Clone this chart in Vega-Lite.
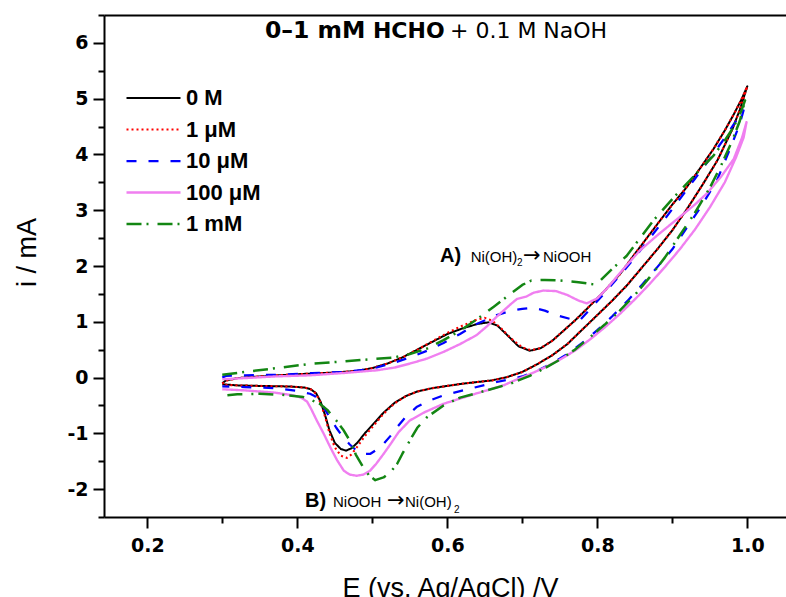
{
  "$schema": "https://vega.github.io/schema/vega-lite/v6.json",
  "width": 682,
  "height": 502,
  "autosize": {"type": "none"},
  "padding": {"left": 104, "top": 15, "right": 0, "bottom": 80},
  "background": "white",
  "config": {
    "view": {"stroke": null},
    "font": "Liberation Sans",
    "axis": {
      "domainColor": "black", "domainWidth": 2, "tickColor": "black", "tickWidth": 2,
      "labelFont": "DejaVu Sans", "labelFontWeight": "bold", "labelFontSize": 19, "labelColor": "black",
      "titleFont": "Liberation Sans", "titleFontWeight": "normal", "titleFontSize": 27, "titleColor": "black",
      "grid": false
    },
    "legend": {
      "orient": "none", "legendX": 21, "legendY": 70, "title": null,
      "symbolType": "stroke", "symbolSize": 2916, "labelFont": "Liberation Sans", "labelFontWeight": "bold",
      "labelFontSize": 22, "labelColor": "black", "labelOffset": 4, "clipHeight": 26, "rowPadding": 5.5, "padding": 0
    }
  },
  "datasets": {
    "cv": [
      {"c":"0 M","k":1,"E":0.300,"i":-0.10},{"c":"0 M","k":2,"E":0.305,"i":-0.05},{"c":"0 M","k":3,"E":0.32,"i":-0.01},{"c":"0 M","k":4,"E":0.35,"i":0.02},{"c":"0 M","k":5,"E":0.40,"i":0.06},{"c":"0 M","k":6,"E":0.45,"i":0.09},{"c":"0 M","k":7,"E":0.48,"i":0.12},{"c":"0 M","k":8,"E":0.50,"i":0.17},{"c":"0 M","k":9,"E":0.52,"i":0.25},{"c":"0 M","k":10,"E":0.54,"i":0.36},{"c":"0 M","k":11,"E":0.56,"i":0.50},{"c":"0 M","k":12,"E":0.58,"i":0.64},{"c":"0 M","k":13,"E":0.60,"i":0.78},{"c":"0 M","k":14,"E":0.62,"i":0.88},{"c":"0 M","k":15,"E":0.64,"i":0.96},{"c":"0 M","k":16,"E":0.655,"i":0.99},{"c":"0 M","k":17,"E":0.667,"i":0.93},{"c":"0 M","k":18,"E":0.68,"i":0.76},{"c":"0 M","k":19,"E":0.695,"i":0.56},{"c":"0 M","k":20,"E":0.71,"i":0.48},{"c":"0 M","k":21,"E":0.725,"i":0.53},{"c":"0 M","k":22,"E":0.74,"i":0.66},{"c":"0 M","k":23,"E":0.755,"i":0.84},{"c":"0 M","k":24,"E":0.77,"i":1.02},{"c":"0 M","k":25,"E":0.786,"i":1.23},{"c":"0 M","k":26,"E":0.808,"i":1.53},{"c":"0 M","k":27,"E":0.83,"i":1.85},{"c":"0 M","k":28,"E":0.848,"i":2.18},{"c":"0 M","k":29,"E":0.866,"i":2.50},{"c":"0 M","k":30,"E":0.884,"i":2.82},{"c":"0 M","k":31,"E":0.90,"i":3.10},{"c":"0 M","k":32,"E":0.919,"i":3.41},{"c":"0 M","k":33,"E":0.937,"i":3.75},{"c":"0 M","k":34,"E":0.955,"i":4.10},{"c":"0 M","k":35,"E":0.97,"i":4.43},{"c":"0 M","k":36,"E":0.982,"i":4.72},{"c":"0 M","k":37,"E":0.992,"i":4.98},{"c":"0 M","k":38,"E":1.0,"i":5.22},
      {"c":"0 M","k":39,"E":0.99,"i":4.80},{"c":"0 M","k":40,"E":0.98,"i":4.45},{"c":"0 M","k":41,"E":0.96,"i":3.89},{"c":"0 M","k":42,"E":0.94,"i":3.45},{"c":"0 M","k":43,"E":0.92,"i":3.03},{"c":"0 M","k":44,"E":0.90,"i":2.64},{"c":"0 M","k":45,"E":0.88,"i":2.30},{"c":"0 M","k":46,"E":0.86,"i":1.98},{"c":"0 M","k":47,"E":0.84,"i":1.66},{"c":"0 M","k":48,"E":0.82,"i":1.38},{"c":"0 M","k":49,"E":0.80,"i":1.12},{"c":"0 M","k":50,"E":0.78,"i":0.86},{"c":"0 M","k":51,"E":0.76,"i":0.60},{"c":"0 M","k":52,"E":0.74,"i":0.40},{"c":"0 M","k":53,"E":0.72,"i":0.24},{"c":"0 M","k":54,"E":0.70,"i":0.10},{"c":"0 M","k":55,"E":0.68,"i":0.01},{"c":"0 M","k":56,"E":0.66,"i":-0.05},{"c":"0 M","k":57,"E":0.64,"i":-0.08},{"c":"0 M","k":58,"E":0.62,"i":-0.11},{"c":"0 M","k":59,"E":0.60,"i":-0.15},{"c":"0 M","k":60,"E":0.58,"i":-0.19},{"c":"0 M","k":61,"E":0.56,"i":-0.25},{"c":"0 M","k":62,"E":0.545,"i":-0.33},{"c":"0 M","k":63,"E":0.53,"i":-0.45},{"c":"0 M","k":64,"E":0.515,"i":-0.63},{"c":"0 M","k":65,"E":0.505,"i":-0.78},{"c":"0 M","k":66,"E":0.49,"i":-1.00},{"c":"0 M","k":67,"E":0.48,"i":-1.17},{"c":"0 M","k":68,"E":0.472,"i":-1.27},{"c":"0 M","k":69,"E":0.465,"i":-1.31},{"c":"0 M","k":70,"E":0.458,"i":-1.28},{"c":"0 M","k":71,"E":0.45,"i":-1.17},{"c":"0 M","k":72,"E":0.443,"i":-0.95},{"c":"0 M","k":73,"E":0.437,"i":-0.67},{"c":"0 M","k":74,"E":0.431,"i":-0.43},{"c":"0 M","k":75,"E":0.425,"i":-0.28},{"c":"0 M","k":76,"E":0.418,"i":-0.21},{"c":"0 M","k":77,"E":0.41,"i":-0.18},{"c":"0 M","k":78,"E":0.39,"i":-0.16},{"c":"0 M","k":79,"E":0.35,"i":-0.15},{"c":"0 M","k":80,"E":0.32,"i":-0.14},{"c":"0 M","k":81,"E":0.30,"i":-0.12},

      {"c":"1 μM","k":1,"E":0.300,"i":-0.11},{"c":"1 μM","k":2,"E":0.305,"i":-0.06},{"c":"1 μM","k":3,"E":0.32,"i":-0.01},{"c":"1 μM","k":4,"E":0.35,"i":0.02},{"c":"1 μM","k":5,"E":0.40,"i":0.06},{"c":"1 μM","k":6,"E":0.45,"i":0.09},{"c":"1 μM","k":7,"E":0.48,"i":0.12},{"c":"1 μM","k":8,"E":0.50,"i":0.17},{"c":"1 μM","k":9,"E":0.52,"i":0.25},{"c":"1 μM","k":10,"E":0.54,"i":0.36},{"c":"1 μM","k":11,"E":0.56,"i":0.50},{"c":"1 μM","k":12,"E":0.58,"i":0.65},{"c":"1 μM","k":13,"E":0.60,"i":0.80},{"c":"1 μM","k":14,"E":0.62,"i":0.93},{"c":"1 μM","k":15,"E":0.64,"i":1.04},{"c":"1 μM","k":16,"E":0.65,"i":1.07},{"c":"1 μM","k":17,"E":0.66,"i":1.02},{"c":"1 μM","k":18,"E":0.672,"i":0.88},{"c":"1 μM","k":19,"E":0.685,"i":0.70},{"c":"1 μM","k":20,"E":0.70,"i":0.54},{"c":"1 μM","k":21,"E":0.712,"i":0.49},{"c":"1 μM","k":22,"E":0.725,"i":0.53},{"c":"1 μM","k":23,"E":0.74,"i":0.66},{"c":"1 μM","k":24,"E":0.755,"i":0.84},{"c":"1 μM","k":25,"E":0.77,"i":1.02},{"c":"1 μM","k":26,"E":0.786,"i":1.23},{"c":"1 μM","k":27,"E":0.808,"i":1.53},{"c":"1 μM","k":28,"E":0.83,"i":1.85},{"c":"1 μM","k":29,"E":0.848,"i":2.18},{"c":"1 μM","k":30,"E":0.866,"i":2.50},{"c":"1 μM","k":31,"E":0.884,"i":2.82},{"c":"1 μM","k":32,"E":0.90,"i":3.10},{"c":"1 μM","k":33,"E":0.919,"i":3.41},{"c":"1 μM","k":34,"E":0.937,"i":3.75},{"c":"1 μM","k":35,"E":0.955,"i":4.10},{"c":"1 μM","k":36,"E":0.97,"i":4.43},{"c":"1 μM","k":37,"E":0.982,"i":4.72},{"c":"1 μM","k":38,"E":0.992,"i":4.98},{"c":"1 μM","k":39,"E":1.0,"i":5.22},
      {"c":"1 μM","k":40,"E":0.99,"i":4.80},{"c":"1 μM","k":41,"E":0.98,"i":4.45},{"c":"1 μM","k":42,"E":0.96,"i":3.89},{"c":"1 μM","k":43,"E":0.94,"i":3.45},{"c":"1 μM","k":44,"E":0.92,"i":3.03},{"c":"1 μM","k":45,"E":0.90,"i":2.64},{"c":"1 μM","k":46,"E":0.88,"i":2.30},{"c":"1 μM","k":47,"E":0.86,"i":1.98},{"c":"1 μM","k":48,"E":0.84,"i":1.66},{"c":"1 μM","k":49,"E":0.82,"i":1.38},{"c":"1 μM","k":50,"E":0.80,"i":1.12},{"c":"1 μM","k":51,"E":0.78,"i":0.86},{"c":"1 μM","k":52,"E":0.76,"i":0.60},{"c":"1 μM","k":53,"E":0.74,"i":0.40},{"c":"1 μM","k":54,"E":0.72,"i":0.24},{"c":"1 μM","k":55,"E":0.70,"i":0.10},{"c":"1 μM","k":56,"E":0.68,"i":0.01},{"c":"1 μM","k":57,"E":0.66,"i":-0.05},{"c":"1 μM","k":58,"E":0.64,"i":-0.08},{"c":"1 μM","k":59,"E":0.62,"i":-0.11},{"c":"1 μM","k":60,"E":0.60,"i":-0.15},{"c":"1 μM","k":61,"E":0.58,"i":-0.19},{"c":"1 μM","k":62,"E":0.56,"i":-0.25},{"c":"1 μM","k":63,"E":0.545,"i":-0.33},{"c":"1 μM","k":64,"E":0.53,"i":-0.46},{"c":"1 μM","k":65,"E":0.515,"i":-0.65},{"c":"1 μM","k":66,"E":0.505,"i":-0.81},{"c":"1 μM","k":67,"E":0.49,"i":-1.05},{"c":"1 μM","k":68,"E":0.48,"i":-1.24},{"c":"1 μM","k":69,"E":0.472,"i":-1.38},{"c":"1 μM","k":70,"E":0.466,"i":-1.44},{"c":"1 μM","k":71,"E":0.458,"i":-1.40},{"c":"1 μM","k":72,"E":0.45,"i":-1.25},{"c":"1 μM","k":73,"E":0.443,"i":-1.00},{"c":"1 μM","k":74,"E":0.437,"i":-0.70},{"c":"1 μM","k":75,"E":0.431,"i":-0.45},{"c":"1 μM","k":76,"E":0.425,"i":-0.29},{"c":"1 μM","k":77,"E":0.418,"i":-0.21},{"c":"1 μM","k":78,"E":0.41,"i":-0.18},{"c":"1 μM","k":79,"E":0.39,"i":-0.16},{"c":"1 μM","k":80,"E":0.35,"i":-0.15},{"c":"1 μM","k":81,"E":0.32,"i":-0.14},{"c":"1 μM","k":82,"E":0.30,"i":-0.13},

      {"c":"10 μM","k":1,"E":0.30,"i":0.00},{"c":"10 μM","k":2,"E":0.305,"i":0.03},{"c":"10 μM","k":3,"E":0.33,"i":0.04},{"c":"10 μM","k":4,"E":0.373,"i":0.05},{"c":"10 μM","k":5,"E":0.42,"i":0.08},{"c":"10 μM","k":6,"E":0.462,"i":0.10},{"c":"10 μM","k":7,"E":0.49,"i":0.14},{"c":"10 μM","k":8,"E":0.506,"i":0.18},{"c":"10 μM","k":9,"E":0.53,"i":0.27},{"c":"10 μM","k":10,"E":0.55,"i":0.36},{"c":"10 μM","k":11,"E":0.573,"i":0.48},{"c":"10 μM","k":12,"E":0.595,"i":0.62},{"c":"10 μM","k":13,"E":0.617,"i":0.78},{"c":"10 μM","k":14,"E":0.639,"i":0.96},{"c":"10 μM","k":15,"E":0.653,"i":1.04},{"c":"10 μM","k":16,"E":0.666,"i":1.12},{"c":"10 μM","k":17,"E":0.685,"i":1.20},{"c":"10 μM","k":18,"E":0.70,"i":1.23},{"c":"10 μM","k":19,"E":0.715,"i":1.25},{"c":"10 μM","k":20,"E":0.73,"i":1.20},{"c":"10 μM","k":21,"E":0.745,"i":1.12},{"c":"10 μM","k":22,"E":0.764,"i":1.05},{"c":"10 μM","k":23,"E":0.777,"i":1.03},{"c":"10 μM","k":24,"E":0.79,"i":1.22},{"c":"10 μM","k":25,"E":0.81,"i":1.52},{"c":"10 μM","k":26,"E":0.83,"i":1.83},{"c":"10 μM","k":27,"E":0.85,"i":2.15},{"c":"10 μM","k":28,"E":0.87,"i":2.50},{"c":"10 μM","k":29,"E":0.89,"i":2.84},{"c":"10 μM","k":30,"E":0.91,"i":3.20},{"c":"10 μM","k":31,"E":0.93,"i":3.56},{"c":"10 μM","k":32,"E":0.95,"i":3.92},{"c":"10 μM","k":33,"E":0.97,"i":4.30},{"c":"10 μM","k":34,"E":0.985,"i":4.60},{"c":"10 μM","k":35,"E":0.995,"i":4.79},
      {"c":"10 μM","k":36,"E":0.99,"i":4.55},{"c":"10 μM","k":37,"E":0.98,"i":4.20},{"c":"10 μM","k":38,"E":0.96,"i":3.55},{"c":"10 μM","k":39,"E":0.94,"i":3.10},{"c":"10 μM","k":40,"E":0.92,"i":2.70},{"c":"10 μM","k":41,"E":0.90,"i":2.30},{"c":"10 μM","k":42,"E":0.88,"i":1.98},{"c":"10 μM","k":43,"E":0.86,"i":1.67},{"c":"10 μM","k":44,"E":0.84,"i":1.37},{"c":"10 μM","k":45,"E":0.82,"i":1.10},{"c":"10 μM","k":46,"E":0.80,"i":0.85},{"c":"10 μM","k":47,"E":0.78,"i":0.62},{"c":"10 μM","k":48,"E":0.76,"i":0.42},{"c":"10 μM","k":49,"E":0.74,"i":0.26},{"c":"10 μM","k":50,"E":0.72,"i":0.12},{"c":"10 μM","k":51,"E":0.70,"i":0.02},{"c":"10 μM","k":52,"E":0.666,"i":-0.08},{"c":"10 μM","k":53,"E":0.63,"i":-0.20},{"c":"10 μM","k":54,"E":0.595,"i":-0.32},{"c":"10 μM","k":55,"E":0.575,"i":-0.42},{"c":"10 μM","k":56,"E":0.559,"i":-0.53},{"c":"10 μM","k":57,"E":0.545,"i":-0.70},{"c":"10 μM","k":58,"E":0.533,"i":-0.89},{"c":"10 μM","k":59,"E":0.524,"i":-1.05},{"c":"10 μM","k":60,"E":0.515,"i":-1.19},{"c":"10 μM","k":61,"E":0.505,"i":-1.30},{"c":"10 μM","k":62,"E":0.497,"i":-1.37},{"c":"10 μM","k":63,"E":0.488,"i":-1.37},{"c":"10 μM","k":64,"E":0.479,"i":-1.31},{"c":"10 μM","k":65,"E":0.47,"i":-1.20},{"c":"10 μM","k":66,"E":0.461,"i":-1.07},{"c":"10 μM","k":67,"E":0.452,"i":-0.90},{"c":"10 μM","k":68,"E":0.443,"i":-0.71},{"c":"10 μM","k":69,"E":0.436,"i":-0.55},{"c":"10 μM","k":70,"E":0.43,"i":-0.41},{"c":"10 μM","k":71,"E":0.423,"i":-0.33},{"c":"10 μM","k":72,"E":0.417,"i":-0.29},{"c":"10 μM","k":73,"E":0.40,"i":-0.24},{"c":"10 μM","k":74,"E":0.37,"i":-0.19},{"c":"10 μM","k":75,"E":0.33,"i":-0.17},{"c":"10 μM","k":76,"E":0.30,"i":-0.16},

      {"c":"100 μM","k":1,"E":0.30,"i":-0.03},{"c":"100 μM","k":2,"E":0.33,"i":-0.01},{"c":"100 μM","k":3,"E":0.37,"i":0.02},{"c":"100 μM","k":4,"E":0.417,"i":0.04},{"c":"100 μM","k":5,"E":0.46,"i":0.08},{"c":"100 μM","k":6,"E":0.506,"i":0.13},{"c":"100 μM","k":7,"E":0.53,"i":0.18},{"c":"100 μM","k":8,"E":0.55,"i":0.25},{"c":"100 μM","k":9,"E":0.573,"i":0.34},{"c":"100 μM","k":10,"E":0.595,"i":0.46},{"c":"100 μM","k":11,"E":0.617,"i":0.60},{"c":"100 μM","k":12,"E":0.639,"i":0.76},{"c":"100 μM","k":13,"E":0.653,"i":0.92},{"c":"100 μM","k":14,"E":0.665,"i":1.08},{"c":"100 μM","k":15,"E":0.675,"i":1.20},{"c":"100 μM","k":16,"E":0.685,"i":1.32},{"c":"100 μM","k":17,"E":0.693,"i":1.41},{"c":"100 μM","k":18,"E":0.705,"i":1.45},{"c":"100 μM","k":19,"E":0.715,"i":1.52},{"c":"100 μM","k":20,"E":0.728,"i":1.56},{"c":"100 μM","k":21,"E":0.745,"i":1.55},{"c":"100 μM","k":22,"E":0.76,"i":1.48},{"c":"100 μM","k":23,"E":0.775,"i":1.38},{"c":"100 μM","k":24,"E":0.786,"i":1.33},{"c":"100 μM","k":25,"E":0.80,"i":1.42},{"c":"100 μM","k":26,"E":0.813,"i":1.60},{"c":"100 μM","k":27,"E":0.835,"i":1.95},{"c":"100 μM","k":28,"E":0.857,"i":2.28},{"c":"100 μM","k":29,"E":0.88,"i":2.55},{"c":"100 μM","k":30,"E":0.91,"i":2.88},{"c":"100 μM","k":31,"E":0.93,"i":3.10},{"c":"100 μM","k":32,"E":0.946,"i":3.30},{"c":"100 μM","k":33,"E":0.965,"i":3.60},{"c":"100 μM","k":34,"E":0.982,"i":3.92},{"c":"100 μM","k":35,"E":0.993,"i":4.30},{"c":"100 μM","k":36,"E":0.999,"i":4.58},
      {"c":"100 μM","k":37,"E":0.995,"i":4.30},{"c":"100 μM","k":38,"E":0.985,"i":3.95},{"c":"100 μM","k":39,"E":0.97,"i":3.50},{"c":"100 μM","k":40,"E":0.95,"i":3.05},{"c":"100 μM","k":41,"E":0.93,"i":2.65},{"c":"100 μM","k":42,"E":0.91,"i":2.30},{"c":"100 μM","k":43,"E":0.89,"i":1.98},{"c":"100 μM","k":44,"E":0.87,"i":1.68},{"c":"100 μM","k":45,"E":0.85,"i":1.40},{"c":"100 μM","k":46,"E":0.83,"i":1.14},{"c":"100 μM","k":47,"E":0.81,"i":0.90},{"c":"100 μM","k":48,"E":0.79,"i":0.68},{"c":"100 μM","k":49,"E":0.77,"i":0.48},{"c":"100 μM","k":50,"E":0.75,"i":0.32},{"c":"100 μM","k":51,"E":0.73,"i":0.18},{"c":"100 μM","k":52,"E":0.71,"i":0.06},{"c":"100 μM","k":53,"E":0.69,"i":-0.05},{"c":"100 μM","k":54,"E":0.675,"i":-0.14},{"c":"100 μM","k":55,"E":0.64,"i":-0.28},{"c":"100 μM","k":56,"E":0.595,"i":-0.47},{"c":"100 μM","k":57,"E":0.57,"i":-0.62},{"c":"100 μM","k":58,"E":0.55,"i":-0.77},{"c":"100 μM","k":59,"E":0.535,"i":-0.98},{"c":"100 μM","k":60,"E":0.525,"i":-1.18},{"c":"100 μM","k":61,"E":0.515,"i":-1.37},{"c":"100 μM","k":62,"E":0.505,"i":-1.55},{"c":"100 μM","k":63,"E":0.497,"i":-1.67},{"c":"100 μM","k":64,"E":0.488,"i":-1.74},{"c":"100 μM","k":65,"E":0.479,"i":-1.76},{"c":"100 μM","k":66,"E":0.47,"i":-1.74},{"c":"100 μM","k":67,"E":0.462,"i":-1.67},{"c":"100 μM","k":68,"E":0.453,"i":-1.48},{"c":"100 μM","k":69,"E":0.444,"i":-1.25},{"c":"100 μM","k":70,"E":0.435,"i":-1.00},{"c":"100 μM","k":71,"E":0.426,"i":-0.77},{"c":"100 μM","k":72,"E":0.418,"i":-0.55},{"c":"100 μM","k":73,"E":0.413,"i":-0.43},{"c":"100 μM","k":74,"E":0.405,"i":-0.36},{"c":"100 μM","k":75,"E":0.395,"i":-0.32},{"c":"100 μM","k":76,"E":0.37,"i":-0.27},{"c":"100 μM","k":77,"E":0.33,"i":-0.23},{"c":"100 μM","k":78,"E":0.30,"i":-0.21},

      {"c":"1 mM","k":1,"E":0.30,"i":0.05},{"c":"1 mM","k":2,"E":0.33,"i":0.10},{"c":"1 mM","k":3,"E":0.373,"i":0.17},{"c":"1 mM","k":4,"E":0.42,"i":0.25},{"c":"1 mM","k":5,"E":0.462,"i":0.29},{"c":"1 mM","k":6,"E":0.50,"i":0.33},{"c":"1 mM","k":7,"E":0.528,"i":0.36},{"c":"1 mM","k":8,"E":0.55,"i":0.42},{"c":"1 mM","k":9,"E":0.573,"i":0.52},{"c":"1 mM","k":10,"E":0.595,"i":0.67},{"c":"1 mM","k":11,"E":0.617,"i":0.84},{"c":"1 mM","k":12,"E":0.64,"i":1.05},{"c":"1 mM","k":13,"E":0.662,"i":1.27},{"c":"1 mM","k":14,"E":0.684,"i":1.50},{"c":"1 mM","k":15,"E":0.70,"i":1.66},{"c":"1 mM","k":16,"E":0.712,"i":1.74},{"c":"1 mM","k":17,"E":0.73,"i":1.75},{"c":"1 mM","k":18,"E":0.75,"i":1.74},{"c":"1 mM","k":19,"E":0.775,"i":1.71},{"c":"1 mM","k":20,"E":0.795,"i":1.67},{"c":"1 mM","k":21,"E":0.804,"i":1.74},{"c":"1 mM","k":22,"E":0.82,"i":1.95},{"c":"1 mM","k":23,"E":0.839,"i":2.18},{"c":"1 mM","k":24,"E":0.857,"i":2.50},{"c":"1 mM","k":25,"E":0.875,"i":2.82},{"c":"1 mM","k":26,"E":0.902,"i":3.23},{"c":"1 mM","k":27,"E":0.928,"i":3.60},{"c":"1 mM","k":28,"E":0.955,"i":3.98},{"c":"1 mM","k":29,"E":0.97,"i":4.25},{"c":"1 mM","k":30,"E":0.982,"i":4.50},{"c":"1 mM","k":31,"E":0.992,"i":4.78},{"c":"1 mM","k":32,"E":0.997,"i":4.97},
      {"c":"1 mM","k":33,"E":0.99,"i":4.60},{"c":"1 mM","k":34,"E":0.98,"i":4.25},{"c":"1 mM","k":35,"E":0.965,"i":3.80},{"c":"1 mM","k":36,"E":0.95,"i":3.40},{"c":"1 mM","k":37,"E":0.93,"i":2.95},{"c":"1 mM","k":38,"E":0.91,"i":2.55},{"c":"1 mM","k":39,"E":0.89,"i":2.15},{"c":"1 mM","k":40,"E":0.87,"i":1.80},{"c":"1 mM","k":41,"E":0.85,"i":1.48},{"c":"1 mM","k":42,"E":0.83,"i":1.20},{"c":"1 mM","k":43,"E":0.81,"i":0.95},{"c":"1 mM","k":44,"E":0.79,"i":0.72},{"c":"1 mM","k":45,"E":0.77,"i":0.50},{"c":"1 mM","k":46,"E":0.75,"i":0.32},{"c":"1 mM","k":47,"E":0.73,"i":0.17},{"c":"1 mM","k":48,"E":0.71,"i":0.03},{"c":"1 mM","k":49,"E":0.684,"i":-0.11},{"c":"1 mM","k":50,"E":0.65,"i":-0.24},{"c":"1 mM","k":51,"E":0.617,"i":-0.36},{"c":"1 mM","k":52,"E":0.595,"i":-0.50},{"c":"1 mM","k":53,"E":0.573,"i":-0.71},{"c":"1 mM","k":54,"E":0.56,"i":-0.90},{"c":"1 mM","k":55,"E":0.55,"i":-1.13},{"c":"1 mM","k":56,"E":0.54,"i":-1.37},{"c":"1 mM","k":57,"E":0.533,"i":-1.55},{"c":"1 mM","k":58,"E":0.524,"i":-1.70},{"c":"1 mM","k":59,"E":0.515,"i":-1.79},{"c":"1 mM","k":60,"E":0.504,"i":-1.84},{"c":"1 mM","k":61,"E":0.496,"i":-1.76},{"c":"1 mM","k":62,"E":0.488,"i":-1.61},{"c":"1 mM","k":63,"E":0.478,"i":-1.38},{"c":"1 mM","k":64,"E":0.47,"i":-1.13},{"c":"1 mM","k":65,"E":0.461,"i":-0.93},{"c":"1 mM","k":66,"E":0.452,"i":-0.77},{"c":"1 mM","k":67,"E":0.44,"i":-0.58},{"c":"1 mM","k":68,"E":0.43,"i":-0.47},{"c":"1 mM","k":69,"E":0.418,"i":-0.40},{"c":"1 mM","k":70,"E":0.408,"i":-0.35},{"c":"1 mM","k":71,"E":0.38,"i":-0.31},{"c":"1 mM","k":72,"E":0.35,"i":-0.29},{"c":"1 mM","k":73,"E":0.32,"i":-0.30},{"c":"1 mM","k":74,"E":0.306,"i":-0.32}
    ]
  },
  "resolve": {"axis": {"x": "independent", "y": "independent"}},
  "layer": [
    {
      "data": {"name": "cv"},
      "mark": {"type": "line", "strokeJoin": "round", "clip": true},
      "encoding": {
        "x": {"field": "E", "type": "quantitative",
          "scale": {"domain": [0.1423, 1.0516], "nice": false, "zero": false},
          "axis": {"orient": "bottom", "title": "E (vs. Ag/AgCl) /V", "values": [0.2,0.4,0.6,0.8,1.0], "format": ".1f",
            "tickSize": 11, "labelPadding": 8, "labelBaseline": "top", "titleX": 346, "titleY": 79, "titleBaseline": "alphabetic", "titleAnchor": "middle", "titleAlign": "center"}},
        "y": {"field": "i", "type": "quantitative",
          "scale": {"domain": [-2.5, 6.5], "nice": false, "zero": false},
          "axis": {"orient": "left", "title": "i / mA", "values": [-2,-1,0,1,2,3,4,5,6],
            "labelExpr": "datum.value < 0 ? '-' + format(abs(datum.value), 'd') : format(datum.value, 'd')",
            "tickSize": 11, "labelPadding": 5, "titleX": -69, "titleY": 237, "titleBaseline": "alphabetic", "titleAngle": 270, "titleAlign": "center"}},
        "order": {"field": "k", "type": "quantitative"},
        "color": {"field": "c", "type": "nominal",
          "scale": {"domain": ["0 M","1 μM","10 μM","100 μM","1 mM"], "range": ["#000000","#ff0000","#0000ff","#f07ff0","#138613"]}},
        "strokeDash": {"field": "c", "type": "nominal",
          "scale": {"domain": ["0 M","1 μM","10 μM","100 μM","1 mM"], "range": [[1,0],[2,3],[10,12],[1,0],[15,5,2,9]]}},
        "strokeWidth": {"field": "c", "type": "nominal",
          "scale": {"domain": ["0 M","1 μM","10 μM","100 μM","1 mM"], "range": [2,2.5,2.5,2,2.5]}}
      }
    },
    {
      "data": {"values": [{"t": "0–1 mM", "E": 0.3569, "i": 6.094}]},
      "mark": {"type": "text", "align": "left", "baseline": "alphabetic", "font": "DejaVu Sans", "fontWeight": "bold", "fontSize": 23.5, "color": "black"},
      "encoding": {
        "x": {"field": "E", "type": "quantitative", "axis": {"orient": "top", "labels": false, "ticks": false, "title": null, "domainWidth": 2, "domainColor": "black"}},
        "y": {"field": "i", "type": "quantitative", "axis": {"orient": "left", "values": [-2.5,-1.5,-0.5,0.5,1.5,2.5,3.5,4.5,5.5,6.5], "tickSize": 6, "labels": false, "domain": false, "title": null}},
        "text": {"field": "t"}}
    },
    {
      "data": {"values": [{"t": "HCHO", "E": 0.5009, "i": 6.094}]},
      "mark": {"type": "text", "align": "left", "baseline": "alphabetic", "font": "DejaVu Sans", "fontWeight": "bold", "fontSize": 22, "color": "black"},
      "encoding": {
        "x": {"field": "E", "type": "quantitative", "axis": {"orient": "bottom", "values": [0.3,0.5,0.7,0.9], "tickSize": 6, "labels": false, "domain": false, "title": null}},
        "y": {"field": "i", "type": "quantitative", "axis": null},
        "text": {"field": "t"}}
    },
    {
      "data": {"values": [{"t": "+ 0.1 M NaOH", "E": 0.6036, "i": 6.094}]},
      "mark": {"type": "text", "align": "left", "baseline": "alphabetic", "font": "DejaVu Sans", "fontSize": 22, "color": "black"},
      "encoding": {"x": {"field": "E", "type": "quantitative", "axis": null}, "y": {"field": "i", "type": "quantitative", "axis": null}, "text": {"field": "t"}}
    },
    {
      "data": {"values": [{"t": "A)", "E": 0.5903, "i": 2.078}, {"t": "B)", "E": 0.4103, "i": -2.32}]},
      "mark": {"type": "text", "align": "left", "baseline": "alphabetic", "font": "Liberation Sans", "fontWeight": "bold", "fontSize": 20, "color": "black"},
      "encoding": {"x": {"field": "E", "type": "quantitative", "axis": null}, "y": {"field": "i", "type": "quantitative", "axis": null}, "text": {"field": "t"}}
    },
    {
      "data": {"values": [
        {"t": "Ni(OH)", "E": 0.6312, "i": 2.078}, {"t": "NiOOH", "E": 0.7276, "i": 2.078},
        {"t": "NiOOH", "E": 0.4476, "i": -2.32}, {"t": "Ni(OH)", "E": 0.5436, "i": -2.32}
      ]},
      "mark": {"type": "text", "align": "left", "baseline": "alphabetic", "font": "Liberation Sans", "fontSize": 15, "color": "black"},
      "encoding": {"x": {"field": "E", "type": "quantitative", "axis": null}, "y": {"field": "i", "type": "quantitative", "axis": null}, "text": {"field": "t"}}
    },
    {
      "data": {"values": [{"t": "→", "E": 0.7009, "i": 2.078}, {"t": "→", "E": 0.5196, "i": -2.32}]},
      "mark": {"type": "text", "align": "left", "baseline": "alphabetic", "font": "DejaVu Sans", "fontSize": 21, "color": "black"},
      "encoding": {"x": {"field": "E", "type": "quantitative", "axis": null}, "y": {"field": "i", "type": "quantitative", "axis": null}, "text": {"field": "t"}}
    },
    {
      "data": {"values": [{"t": "2", "E": 0.6929, "i": 2.0}, {"t": "2", "E": 0.6089, "i": -2.43}]},
      "mark": {"type": "text", "align": "left", "baseline": "alphabetic", "font": "Liberation Sans", "fontSize": 10, "color": "black"},
      "encoding": {"x": {"field": "E", "type": "quantitative", "axis": null}, "y": {"field": "i", "type": "quantitative", "axis": null}, "text": {"field": "t"}}
    }
  ]
}
